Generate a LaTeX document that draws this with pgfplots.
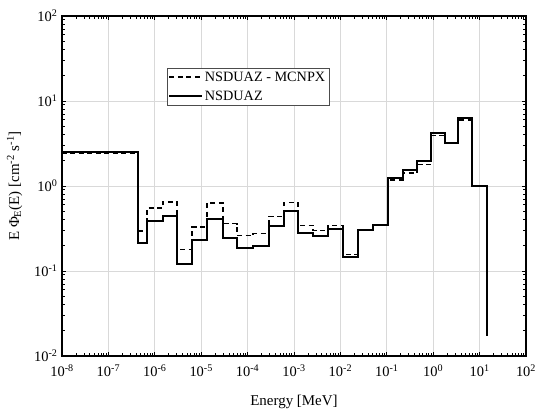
\documentclass[border=0pt]{standalone}
\usepackage{fontspec}
\setmainfont{Liberation Serif}
\usepackage{pgfplots}
\pgfplotsset{compat=1.18}

% step spectra, left bin edge and bin value
\pgfplotstableread{
E        mcnpx   nsduaz
1e-8     2.40    2.51
4.35e-7  0.295   0.213
6.8e-7   0.55    0.387
1.5e-6   0.65    0.444
3.0e-6   0.18    0.121
6.3e-6   0.33    0.232
1.33e-5  0.63    0.409
2.95e-5  0.36    0.244
5.9e-5   0.26    0.187
1.3e-4   0.275   0.197
2.9e-4   0.44    0.338
6.1e-4   0.64    0.508
1.22e-3  0.345   0.280
2.57e-3  0.30    0.258
5.4e-3   0.345   0.312
1.14e-2  0.157   0.146
2.4e-2   0.30    0.303
5.0e-2   0.35    0.348
0.106    1.18    1.24
0.223    1.42    1.54
0.448    1.78    1.97
0.90     3.95    4.20
1.8      3.20    3.21
3.4      6.00    6.31
6.85     1.00    1.00
14.4     0.017   0.017
}\spectra

\begin{document}
\begin{tikzpicture}
\begin{axis}[
  scale only axis, width=464bp, height=340bp,
  xmode=log, ymode=log,
  xmin=1e-8, xmax=1e2, ymin=1e-2, ymax=1e2,
  xtick={1e-8,1e-7,1e-6,1e-5,1e-4,1e-3,1e-2,1e-1,1e0,1e1,1e2},
  xticklabels={10\textsuperscript{-8},10\textsuperscript{-7},10\textsuperscript{-6},10\textsuperscript{-5},10\textsuperscript{-4},10\textsuperscript{-3},10\textsuperscript{-2},10\textsuperscript{-1},10\textsuperscript{0},10\textsuperscript{1},10\textsuperscript{2}},
  ytick={1e-2,1e-1,1e0,1e1,1e2},
  yticklabels={10\textsuperscript{-2},10\textsuperscript{-1},10\textsuperscript{0},10\textsuperscript{1},10\textsuperscript{2}},
  tick label style={font=\fontsize{14.5}{16}\selectfont},
  xticklabel style={yshift=-5bp},
  yticklabel style={xshift=-1bp},
  label style={font=\fontsize{15}{18}\selectfont},
  xlabel={Energy [MeV]},
  ylabel={E Φ\textsubscript{E}(E) [cm\textsuperscript{-2} s\textsuperscript{-1}]},
  xlabel style={yshift=-12bp},
  ylabel style={yshift=5bp},
  grid=major, major grid style={draw=black!15, line width=0.8pt},
  axis line style={line width=1.3pt},
  tick style={black, line width=0.9pt},
  major tick length=4bp, minor tick length=3bp,
  legend style={at={(0.226,0.847)}, anchor=north west, draw=black!70,
    inner sep=1.5pt, font=\fontsize{14.3}{15}\selectfont, row sep=4pt},
  legend cell align=left,
  legend image code/.code={\draw[#1] (0bp,0bp) -- (33bp,0bp);},
]
\addplot[const plot, black, line width=1.4pt, dash pattern=on 5bp off 3.5bp]
  table[x=E, y=mcnpx] {\spectra};
\addlegendentry{NSDUAZ - MCNPX}
\addplot[const plot, black, line width=1.4pt]
  table[x=E, y=nsduaz] {\spectra};
\addlegendentry{NSDUAZ}
\end{axis}
\pgfresetboundingbox
\path (-62bp,-56bp) rectangle (473bp,356bp);
\end{tikzpicture}
\end{document}
